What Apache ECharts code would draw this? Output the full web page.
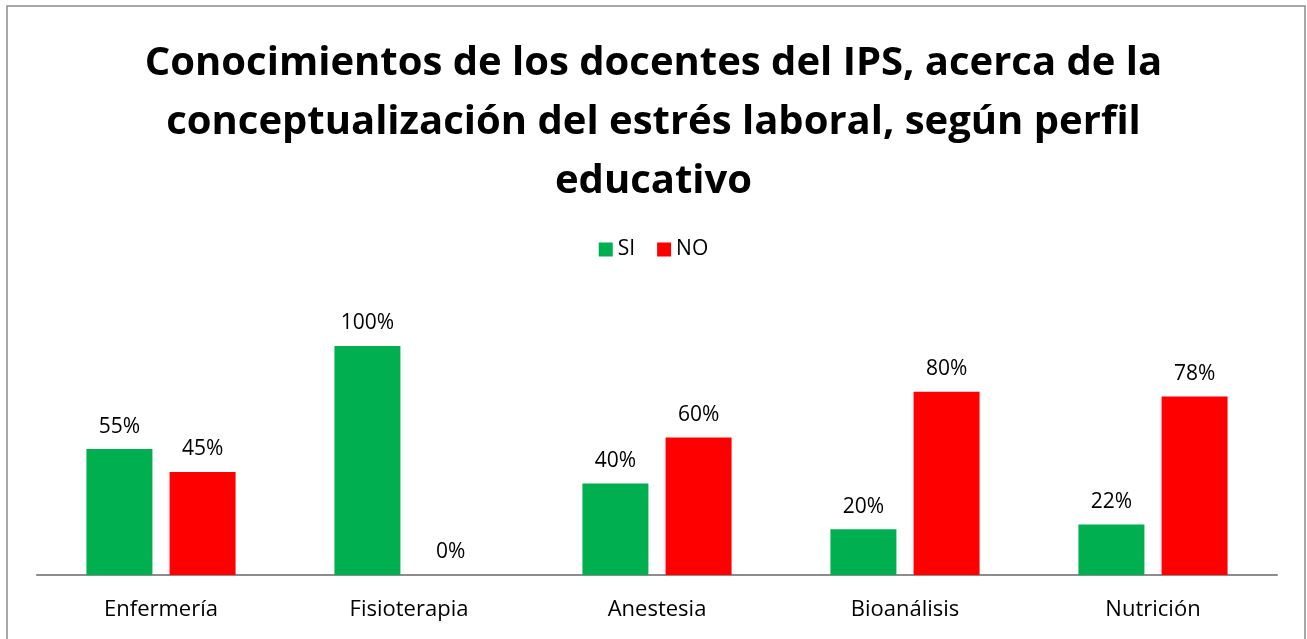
<!DOCTYPE html>
<html lang="es">
<head>
<meta charset="UTF-8">
<title>Conocimientos de los docentes del IPS</title>
<script src="https://cdn.jsdelivr.net/npm/echarts@6/dist/echarts.min.js"></script>
<style>
  html, body { margin: 0; padding: 0; background: #fff; }
  #main { width: 1307px; height: 639px; }
</style>
</head>
<body>
<div id="main"></div>
<script>
// datos
var categorias = ['Enfermería', 'Fisioterapia', 'Anestesia', 'Bioanálisis', 'Nutrición'];
var valoresSi = [55, 100, 40, 20, 22];
var valoresNo = [45, 0, 60, 80, 78];

var fuente = '"Open Sans", Lato, sans-serif';
var chart = echarts.init(document.getElementById('main'));

chart.setOption({
  animation: false,
  title: {
    text: 'Conocimientos de los docentes del IPS, acerca de la\nconceptualización del estrés laboral, según perfil\neducativo',
    left: 'center',
    top: 29,
    textStyle: {
      fontFamily: fuente,
      fontSize: 40,
      fontWeight: 'bold',
      color: '#000',
      lineHeight: 59
    }
  },
  graphic: [{
    type: 'rect',
    shape: { x: 7, y: 6, width: 1298, height: 660 },
    style: { fill: 'none', stroke: '#8c8c8c', lineWidth: 1.5 },
    silent: true
  }],
  legend: {
    top: 234,
    left: 'center',
    itemWidth: 14,
    itemHeight: 14,
    itemGap: 22,
    icon: 'rect',
    textStyle: { fontFamily: fuente, fontSize: 21, color: '#000' },
    data: ['SI', 'NO']
  },
  grid: { left: 37, right: 30, top: 346, bottom: 64 },
  xAxis: {
    type: 'category',
    data: categorias,
    axisTick: { show: false },
    axisLine: { lineStyle: { color: '#8c8c8c', width: 2 } },
    axisLabel: { fontFamily: fuente, fontSize: 22, color: '#000', margin: 24 }
  },
  yAxis: {
    type: 'value',
    min: 0,
    max: 100,
    show: false,
    splitLine: { show: false }
  },
  series: [{
    name: 'SI',
    type: 'bar',
    data: valoresSi,
    barWidth: 66,
    barGap: '26%',
    itemStyle: { color: '#00b050' },
    label: { show: true, position: 'top', distance: 12, formatter: '{c}%', fontFamily: fuente, fontSize: 21, color: '#000' }
  }, {
    name: 'NO',
    type: 'bar',
    data: valoresNo,
    barWidth: 66,
    itemStyle: { color: '#ff0000' },
    label: { show: true, position: 'top', distance: 12, formatter: '{c}%', fontFamily: fuente, fontSize: 21, color: '#000' }
  }]
});
</script>
</body>
</html>
